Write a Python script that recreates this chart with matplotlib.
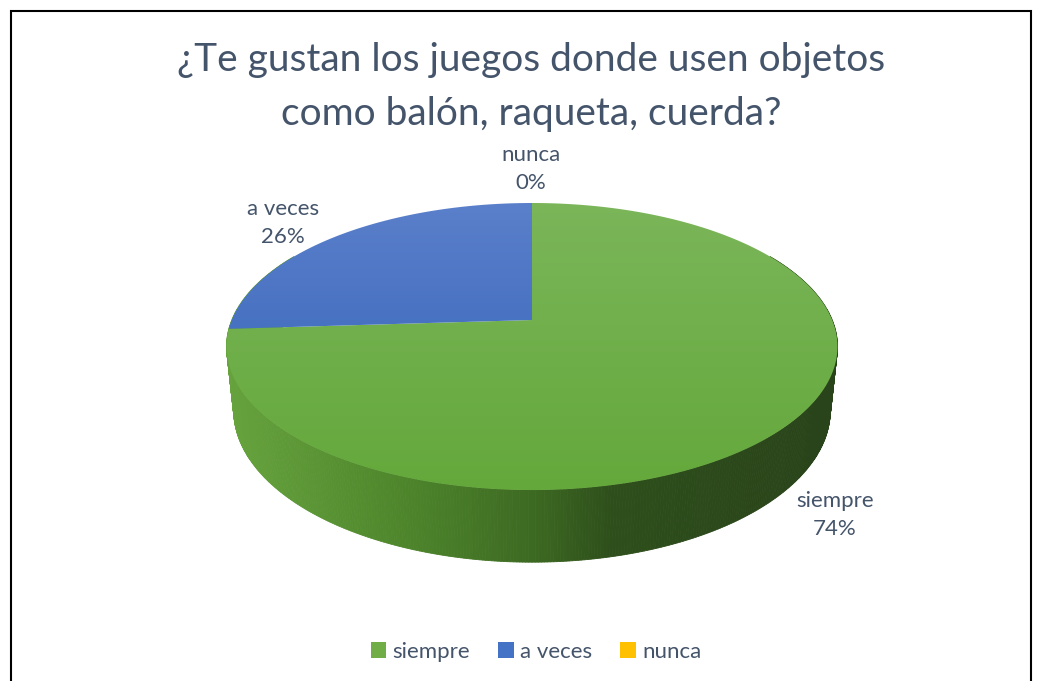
import numpy as np
import matplotlib
matplotlib.use("Agg")
import matplotlib.pyplot as plt
from matplotlib.patches import Polygon, Rectangle
from matplotlib.colors import LinearSegmentedColormap

# ---------------- data ----------------
title = "¿Te gustan los juegos donde usen objetos\ncomo balón, raqueta, cuerda?"
categories = ["siempre", "a veces", "nunca"]
values = [74, 26, 0]
colors = ["#70ad47", "#4472c4", "#ffc000"]

# ---------------- layout ----------------
W, H = 1041, 681
TXT = "#44546a"
FONT = "Lato"
plt.rcParams["font.family"] = [FONT, "DejaVu Sans"]

fig = plt.figure(figsize=(W / 100, H / 100), dpi=100)
ax = fig.add_axes([0, 0, 1, 1])
ax.set_xlim(0, W)
ax.set_ylim(H, 0)
ax.axis("off")

# perspective projection of a unit disk
CX, CY = 532, 320
F, D = 1441.0, 4.8
phi = np.radians(27.5)
DEPTH = 0.242


def proj(t_deg, z=0.0, r=1.0):
    t = np.radians(t_deg)
    X = r * np.cos(t)
    Y = r * np.sin(t)
    v = Y * np.sin(phi) + z * np.cos(phi)
    w = D + Y * np.cos(phi) - z * np.sin(phi)
    return CX + F * X / w, CY - F * v / w


# wedge angles (start at 12 o'clock, clockwise)
total = float(sum(values))
fr = np.array(values) / total
starts = 90 - 360 * np.concatenate([[0], np.cumsum(fr)[:-1]])
ends = starts - 360 * fr

# ---- side wall (outer rim) with horizontal shading ----
wall_cmap = LinearSegmentedColormap.from_list(
    "wall",
    [(0.0, "#66a33d"), (0.30, "#4d842b"), (0.50, "#3d6a22"),
     (0.63, "#2e4f1b"), (1.0, "#29431a")])
x_left, x_right = 227, 838
ts = np.linspace(150, 390, 481)
for a0, a1 in zip(ts[:-1], ts[1:]):
    xs_t0, ys_t0 = proj(a0)
    xs_t1, ys_t1 = proj(a1)
    xs_b1, ys_b1 = proj(a1, z=-DEPTH)
    xs_b0, ys_b0 = proj(a0, z=-DEPTH)
    xm = (xs_t0 + xs_t1) / 2
    c = wall_cmap(np.clip((xm - x_left) / (x_right - x_left), 0, 1))
    ax.add_patch(Polygon([[xs_t0, ys_t0], [xs_t1, ys_t1], [xs_b1, ys_b1], [xs_b0, ys_b0]],
                         closed=True, facecolor=c, edgecolor=c, lw=0.6, zorder=2))

# ---- top faces with vertical gradient ----
grad_stops = {
    "#70ad47": ("#7bb65a", "#64a83b"),
    "#4472c4": ("#5b80cb", "#2e5eb5"),
    "#ffc000": ("#ffd24d", "#f0b400"),
}
for s, e, col in zip(starts, ends, colors):
    if e == s:
        continue
    angs = np.linspace(s, e, 300)
    px, py = proj(angs)
    pts = [[CX, CY]] + list(zip(px, py))
    poly = Polygon(pts, closed=True, facecolor="none", edgecolor="none", zorder=3)
    ax.add_patch(poly)
    top_c, bot_c = grad_stops[col]
    cm = LinearSegmentedColormap.from_list("g", [top_c, bot_c])
    grad = np.linspace(0, 1, 256).reshape(-1, 1)
    im = ax.imshow(grad, cmap=cm, aspect="auto", extent=(x_left - 5, x_right + 5, 492, 200),
                   zorder=3, interpolation="bilinear")
    im.set_clip_path(poly)

# ---- data labels ----
label_pos = {"siempre": (835, 515), "a veces": (283, 223), "nunca": (531, 169)}
for cat, val in zip(categories, values):
    x, y = label_pos[cat]
    ax.text(x, y, f"{cat}\n{val:.0f}%", ha="center", va="center", fontsize=16,
            color=TXT, linespacing=1.55, zorder=5)

# ---- title ----
ax.text(531, 87, title, ha="center", va="center", fontsize=28, color=TXT,
        linespacing=1.6, zorder=5)

# ---- legend ----
handles = [Rectangle((0, 0), 1, 1, facecolor=c, edgecolor="none") for c in colors]
fig.legend(handles, categories, loc="center", bbox_to_anchor=(0.515, 0.043), ncol=3,
           frameon=False, fontsize=16, handlelength=0.7, handleheight=0.7,
           handletextpad=0.3, columnspacing=1.25, labelcolor=TXT)

# ---- outer border ----
ax.plot([10.5, 10.5, 1030.5, 1030.5], [H + 5, 11, 11, H + 5], color="black", lw=1.5,
        zorder=6, solid_joinstyle="miter")

fig.savefig("out.png", dpi=100)
